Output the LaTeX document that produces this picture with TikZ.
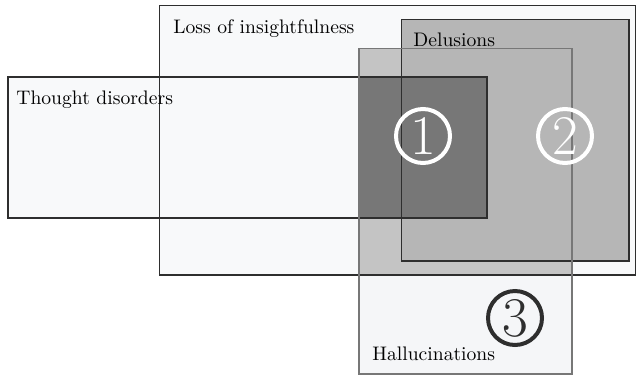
\documentclass[tikz,border=0pt]{standalone}
\definecolor{setbg}{HTML}{F8F9FA}
\definecolor{hallbg}{HTML}{F5F6F8}
\definecolor{overlap}{HTML}{C4C4C4}
\definecolor{delbg}{HTML}{B6B6B6}
\definecolor{core}{HTML}{777777}
\definecolor{edge}{HTML}{2E2E2E}
\begin{document}
\begin{tikzpicture}[x=0.5pt, y=-0.5pt,
    setline/.style={draw=edge, line width=0.6pt},
    settext/.style={anchor=base west, inner sep=0pt, font=\fontsize{9.8}{11}\selectfont},
    num/.style={circle, draw=#1, text=#1, line width=2pt, minimum size=27pt,
      inner sep=0pt, font=\fontsize{28}{28}\selectfont}]
  \useasboundingbox (0,0) rectangle (636,376);

  % corners of the sets
  \coordinate (loss1) at (159.5,5.5);
  \coordinate (loss2) at (635.5,275);
  \coordinate (del1) at (401.5,19.5);
  \coordinate (del2) at (629,261);
  \coordinate (hall1) at (359,48.5);
  \coordinate (hall2) at (572,374);
  \coordinate (thought1) at (8,77);
  \coordinate (thought2) at (487,218);

  % fills
  \fill[setbg] (loss1) rectangle (loss2);
  \fill[setbg] (thought1) rectangle (thought2);
  \fill[hallbg] (hall1) rectangle (hall2);
  \fill[overlap] (hall1) rectangle (loss2 -| hall2);
  \fill[delbg] (del1) rectangle (del2);
  \fill[core] (hall1 |- thought1) rectangle (thought2);

  % borders
  \draw[setline] (loss1) rectangle (loss2);
  \draw[setline] (thought1) rectangle (thought2);
  \draw[setline] (del1) rectangle (del2);
  \draw[setline, draw=core] (hall1) rectangle (hall2);

  \node[settext] (loss) at (173,33) {Loss of insightfulness};
  \node[settext] (delusions) at (413,46.5) {Delusions};
  \node[settext] (thought) at (16,104) {Thought disorders};
  \node[settext] (hallucinations) at (372,360) {Hallucinations};

  \node[num=white] (one) at (423,136) {1};
  \node[num=white] (two) at (565,136) {2};
  \node[num=edge] (three) at (515,318) {3};
\end{tikzpicture}
\end{document}
